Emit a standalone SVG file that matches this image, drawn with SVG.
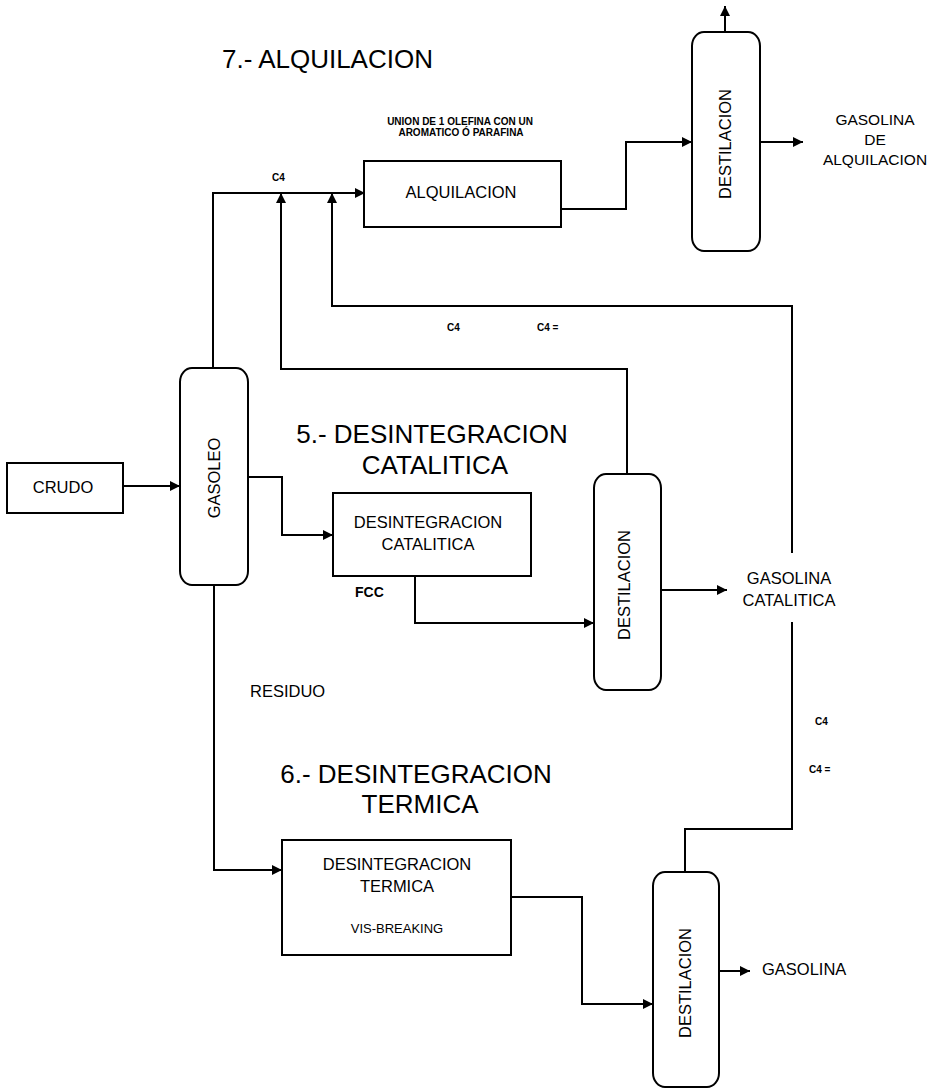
<svg xmlns="http://www.w3.org/2000/svg" width="936" height="1089" viewBox="0 0 936 1089">
<style>
text{font-family:"Liberation Sans",Arial,sans-serif;fill:#000}
.title{font-size:26px}
.node{font-size:16.5px}
.lbl{font-size:10px;font-weight:bold}
.shape{fill:#fff;stroke:#000;stroke-width:2}
.conn{fill:none;stroke:#000;stroke-width:2}
</style>
<defs>
<marker id="arr" viewBox="0 0 10 10" refX="10" refY="5" markerWidth="5" markerHeight="5" orient="auto" markerUnits="strokeWidth">
<path d="M0,0 L10,5 L0,10 z" fill="#000"/>
</marker>
</defs>
<rect width="936" height="1089" fill="#fff"/>

<g id="titles">
<text class="title" x="222" y="68">7.- ALQUILACION</text>
<text class="title" x="432" y="443" text-anchor="middle">5.- DESINTEGRACION</text>
<text class="title" x="435" y="474" text-anchor="middle">CATALITICA</text>
<text class="title" x="416" y="783" text-anchor="middle">6.- DESINTEGRACION</text>
<text class="title" x="420" y="813" text-anchor="middle">TERMICA</text>
</g>

<g id="connectors">
<path class="conn" d="M123,486 H180" marker-end="url(#arr)"/>
<path class="conn" d="M213,368 V193 H365" marker-end="url(#arr)"/>
<path class="conn" d="M248,477 H282 V535 H333" marker-end="url(#arr)"/>
<path class="conn" d="M214,585 V870 H282" marker-end="url(#arr)"/>
<path class="conn" d="M415,576 V623 H594" marker-end="url(#arr)"/>
<path class="conn" d="M661,590 H727" marker-end="url(#arr)"/>
<path class="conn" d="M627,474 V369 H281 V193" marker-end="url(#arr)"/>
<path class="conn" d="M685,872 V829 H792 V622"/>
<path class="conn" d="M792,553 V306 H332 V193" marker-end="url(#arr)"/>
<path class="conn" d="M511,897 H582 V1004 H653" marker-end="url(#arr)"/>
<path class="conn" d="M719,971 H750" marker-end="url(#arr)"/>
<path class="conn" d="M561,209 H626 V142 H692" marker-end="url(#arr)"/>
<path class="conn" d="M760,142 H803" marker-end="url(#arr)"/>
<path class="conn" d="M725,32 V6" marker-end="url(#arr)"/>
</g>

<g id="labels">
<text class="lbl" x="272" y="181">C4</text>
<text class="lbl" x="447" y="331">C4</text>
<text class="lbl" x="537" y="331">C4 =</text>
<text class="lbl" x="815" y="725">C4</text>
<text class="lbl" x="809" y="773">C4 =</text>
<text class="lbl" x="460" y="125" text-anchor="middle" font-size="9">UNION DE 1 OLEFINA CON UN</text>
<text class="lbl" x="461" y="136" text-anchor="middle" font-size="9">AROMATICO Ó PARAFINA</text>
<text class="node" x="250" y="697">RESIDUO</text>
<text x="355" y="597" font-size="14" font-weight="bold">FCC</text>
<text class="node" x="789" y="584" text-anchor="middle">GASOLINA</text>
<text class="node" x="789" y="606" text-anchor="middle">CATALITICA</text>
<text x="875" y="125" text-anchor="middle" font-size="15.5">GASOLINA</text>
<text x="875" y="145" text-anchor="middle" font-size="15.5">DE</text>
<text x="875" y="165" text-anchor="middle" font-size="15.5">ALQUILACION</text>
<text class="node" x="762" y="975">GASOLINA</text>
</g>

<g id="crudo">
<rect class="shape" x="7" y="463" width="116" height="50"/>
<text class="node" x="63" y="493" text-anchor="middle">CRUDO</text>
</g>

<g id="gasoleo">
<rect class="shape" x="180" y="368" width="68" height="217" rx="12" ry="14"/>
<text class="node" transform="translate(220,478) rotate(-90)" text-anchor="middle">GASOLEO</text>
</g>

<g id="alquilacion">
<rect class="shape" x="364" y="161" width="197" height="66"/>
<text class="node" x="461" y="198" text-anchor="middle">ALQUILACION</text>
</g>

<g id="destilacion1">
<rect class="shape" x="692" y="32" width="68" height="219" rx="12" ry="14"/>
<text class="node" transform="translate(731,144) rotate(-90)" text-anchor="middle">DESTILACION</text>
</g>

<g id="fcc">
<rect class="shape" x="333" y="493" width="198" height="83"/>
<text class="node" x="428" y="528" text-anchor="middle">DESINTEGRACION</text>
<text class="node" x="428" y="550" text-anchor="middle">CATALITICA</text>
</g>

<g id="destilacion2">
<rect class="shape" x="594" y="474" width="67" height="216" rx="12" ry="14"/>
<text class="node" transform="translate(630,585) rotate(-90)" text-anchor="middle">DESTILACION</text>
</g>

<g id="termica">
<rect class="shape" x="282" y="840" width="229" height="115"/>
<text class="node" x="397" y="870" text-anchor="middle">DESINTEGRACION</text>
<text class="node" x="397" y="892" text-anchor="middle">TERMICA</text>
<text x="397" y="933" text-anchor="middle" font-size="13">VIS-BREAKING</text>
</g>

<g id="destilacion3">
<rect class="shape" x="653" y="872" width="66" height="215" rx="12" ry="14"/>
<text class="node" transform="translate(691,983) rotate(-90)" text-anchor="middle">DESTILACION</text>
</g>
</svg>
